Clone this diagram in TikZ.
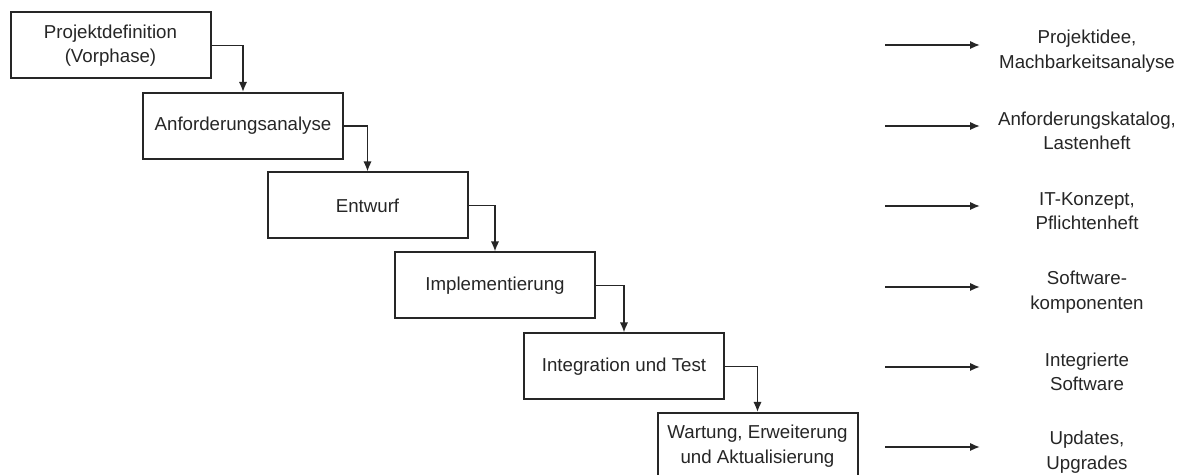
\documentclass[tikz,border=0pt]{standalone}
\usepackage{fontspec}
\setmainfont{Liberation Sans}
\usetikzlibrary{arrows.meta}
\begin{document}
\begin{tikzpicture}[x=0.5pt,y=-0.5pt,
  phase/.style={draw=black!85, line width=1pt, minimum width=100pt, minimum height=33pt, align=center, inner sep=0pt, text=black!85, font=\fontsize{9.35}{12.2}\selectfont},
  outp/.style={align=center, inner sep=0pt, text=black!85, font=\fontsize{9.35}{12.2}\selectfont},
  flow/.style={draw=black!85, line width=0.9pt, -{Latex[length=5pt,width=4.2pt]}}]
\useasboundingbox (0,0) rectangle (1180,475);
\clip (0,0) rectangle (1180,475);
\fill[white] (0,0) rectangle (1180,475);
% phases
\node[phase] (p1) at (110.5,45.5) {Projektdefinition\\(Vorphase)};
\node[phase] (p2) at (243,126) {Anforderungsanalyse};
\node[phase] (p3) at (367.5,205.5) {Entwurf};
\node[phase] (p4) at (495,285.5) {Implementierung};
\node[phase] (p5) at (624,366.5) {Integration und Test};
\node[phase] (p6) at (757.5,446) {Wartung, Erweiterung\\und Aktualisierung};
% flow connectors
\draw[flow] (p1.east) -| (p2.north);
\draw[flow] (p2.east) -| (p3.north);
\draw[flow] (p3.east) -| (p4.north);
\draw[flow] (p4.east) -| (p5.north);
\draw[flow] (p5.east) -| (p6.north);
% outputs
\foreach \i/\y in {1/45,2/126,3/206,4/287,5/367,6/447}{
  \coordinate (s\i) at (885,\y);
  \coordinate (e\i) at (980,\y);
  \draw[flow] (s\i) -- (e\i);
}
\node[outp] (o1) at (1087,51) {Projektidee,\\Machbarkeitsanalyse};
\node[outp] (o2) at (1087,131) {Anforderungskatalog,\\Lastenheft};
\node[outp] (o3) at (1087,211) {IT-Konzept,\\Pflichtenheft};
\node[outp] (o4) at (1087,292) {Software-\\komponenten};
\node[outp] (o5) at (1087,372) {Integrierte\\Software};
\node[outp] (o6) at (1087,452) {Updates,\\Upgrades};
\end{tikzpicture}
\end{document}
